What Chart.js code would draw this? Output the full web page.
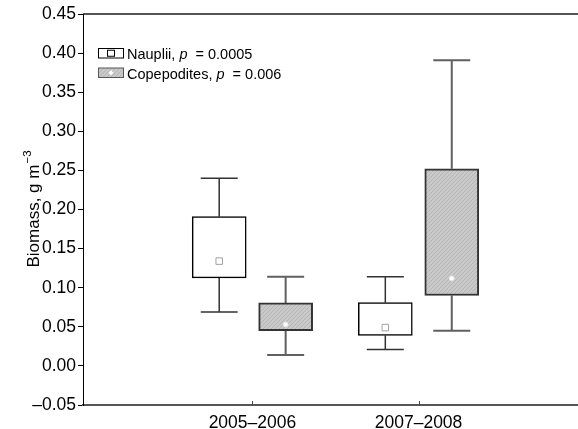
<!DOCTYPE html>
<html><head><meta charset="utf-8">
<script src="https://cdn.jsdelivr.net/npm/chart.js@4"></script>
<style>html,body{margin:0;padding:0;background:#fff}#c{display:block}</style>
</head><body>
<canvas id="c" width="578" height="429"></canvas>
<script>
// ---- data ----
const categories = ['2005–2006', '2007–2008'];
const seriesNames = ['Nauplii', 'Copepodites'];
const pValues = ['0.0005', '0.006'];
const naupliiMin = [0.069, 0.021];
const naupliiQ1  = [0.1125, 0.039];
const naupliiQ3  = [0.191, 0.081];
const naupliiMax = [0.240, 0.114];
const naupliiMid = [0.134, 0.049];
const copeMin = [0.014, 0.045];
const copeQ1  = [0.045, 0.090];
const copeQ3  = [0.0805, 0.252];
const copeMax = [0.114, 0.391];
const copeMid = [0.053, 0.112];
const yTicks = [-0.05, 0, 0.05, 0.10, 0.15, 0.20, 0.25, 0.30, 0.35, 0.40, 0.45];

// ---- style ----
const FONT = '"Liberation Sans", Arial, sans-serif';
const OFFSET = 0.2;          // group offset in category units
const BOX_W = 54;
const CAP_HALF = 18.5;

const pc = document.createElement('canvas'); pc.width = 4; pc.height = 4;
const g = pc.getContext('2d');
g.fillStyle = '#c9c9c9'; g.fillRect(0, 0, 4, 4);
g.strokeStyle = '#b6b6b6'; g.lineWidth = 1;
g.beginPath(); g.moveTo(-1, 5); g.lineTo(5, -1); g.stroke();
const hatch = g.createPattern(pc, 'repeat');

const series = [
  {min: naupliiMin, q1: naupliiQ1, q3: naupliiQ3, max: naupliiMax, mid: naupliiMid, off: -OFFSET, wcol: '#333', ww: 1.5},
  {min: copeMin, q1: copeQ1, q3: copeQ3, max: copeMax, mid: copeMid, off: OFFSET, wcol: '#606060', ww: 2}
];

const whiskerPlugin = {
  id: 'whiskers',
  beforeDatasetsDraw(chart) {
    const ctx = chart.ctx, xs = chart.scales.x, ys = chart.scales.y;
    ctx.save();
    series.forEach(s => {
      categories.forEach((c, i) => {
        const x = xs.getPixelForValue(i + 1 + s.off);
        ctx.strokeStyle = s.wcol; ctx.lineWidth = s.ww;
        ctx.beginPath();
        ctx.moveTo(x, ys.getPixelForValue(s.min[i])); ctx.lineTo(x, ys.getPixelForValue(s.q1[i]));
        ctx.moveTo(x, ys.getPixelForValue(s.q3[i])); ctx.lineTo(x, ys.getPixelForValue(s.max[i]));
        [s.min[i], s.max[i]].forEach(v => {
          const y = ys.getPixelForValue(v);
          ctx.moveTo(x - CAP_HALF, y); ctx.lineTo(x + CAP_HALF, y);
        });
        ctx.stroke();
      });
    });
    ctx.restore();
  },
  afterDraw(chart) {
    const ctx = chart.ctx, a = chart.chartArea, xs = chart.scales.x;
    ctx.save();
    // top frame line
    ctx.strokeStyle = '#555'; ctx.lineWidth = 2;
    ctx.beginPath(); ctx.moveTo(a.left, a.top); ctx.lineTo(a.right, a.top); ctx.stroke();
    // inner x ticks
    ctx.strokeStyle = '#444'; ctx.lineWidth = 1;
    categories.forEach((c, i) => {
      const x = Math.round(xs.getPixelForValue(i + 1)) + 0.5;
      ctx.beginPath(); ctx.moveTo(x, a.bottom); ctx.lineTo(x, a.bottom - 4); ctx.stroke();
    });
    ctx.strokeStyle = '#000'; ctx.lineWidth = 1;
    ctx.beginPath(); ctx.moveTo(a.left + 0.5, a.top); ctx.lineTo(a.left + 0.5, a.bottom); ctx.stroke();
    // legend
    const rows = [
      {y: 48, fill: '#fff', stroke: '#000'},
      {y: 67.5, fill: hatch, stroke: '#555'}
    ];
    rows.forEach((r, k) => {
      ctx.fillStyle = r.fill; ctx.fillRect(98.5, r.y + 0.5, 25, 9.5);
      ctx.strokeStyle = r.stroke; ctx.lineWidth = 1;
      ctx.strokeRect(98.5, r.y + 0.5, 25, 9.5);
      const cx = 111, cy = r.y + 5.25;
      if (k === 0) {
        ctx.strokeStyle = '#000'; ctx.strokeRect(cx - 3.5, cy - 3, 7, 6);
      } else {
        ctx.fillStyle = '#fff'; ctx.beginPath();
        ctx.moveTo(cx, cy - 2.5); ctx.lineTo(cx + 2.5, cy); ctx.lineTo(cx, cy + 2.5); ctx.lineTo(cx - 2.5, cy); ctx.closePath(); ctx.fill();
      }
      let tx = 127; const by = r.y + 11;
      ctx.fillStyle = '#000'; ctx.textBaseline = 'alphabetic'; ctx.textAlign = 'left';
      const parts = [[seriesNames[k] + ', ', 'normal'], ['p', 'italic'], ['  = ' + pValues[k], 'normal']];
      parts.forEach(([t, st]) => {
        ctx.font = st + ' 14.5px ' + FONT;
        ctx.fillText(t, tx, by); tx += ctx.measureText(t).width;
      });
    });
    // y title
    ctx.translate(39, (a.top + a.bottom) / 2);
    ctx.rotate(-Math.PI / 2);
    ctx.font = '17px ' + FONT;
    const main = 'Biomass, g m';
    ctx.fillStyle = '#000';
    const w1 = ctx.measureText(main).width;
    ctx.font = '11.5px ' + FONT;
    const sup = '−3';
    const w2 = ctx.measureText(sup).width;
    const x0 = -(w1 + w2) / 2;
    ctx.font = '17px ' + FONT;
    ctx.fillText(main, x0, 0);
    ctx.font = '11.5px ' + FONT;
    ctx.fillText(sup, x0 + w1 + 1, -8);
    ctx.restore();
  }
};

new Chart(document.getElementById('c'), {
  type: 'bar',
  data: {
    datasets: [
      {
        label: seriesNames[0],
        data: categories.map((c, i) => ({x: i + 1 - OFFSET, y: [naupliiQ1[i], naupliiQ3[i]]})),
        backgroundColor: '#ffffff', borderColor: '#000', borderWidth: 1.5, borderSkipped: false,
        barThickness: BOX_W, grouped: false, order: 2
      },
      {
        label: seriesNames[1],
        data: categories.map((c, i) => ({x: i + 1 + OFFSET, y: [copeQ1[i], copeQ3[i]]})),
        backgroundColor: hatch, borderColor: '#333', borderWidth: 2, borderSkipped: false,
        barThickness: BOX_W, grouped: false, order: 2
      },
      {
        type: 'scatter', label: seriesNames[0] + ' mid',
        data: categories.map((c, i) => ({x: i + 1 - OFFSET, y: naupliiMid[i]})),
        pointStyle: 'rect', radius: 4.6, backgroundColor: '#fff', borderColor: '#a0a0a0', borderWidth: 1, order: 1
      },
      {
        type: 'scatter', label: seriesNames[1] + ' mid',
        data: categories.map((c, i) => ({x: i + 1 + OFFSET, y: copeMid[i]})),
        pointStyle: 'circle', radius: 2.4, backgroundColor: '#fff', borderColor: '#e8e8e8', borderWidth: 1, order: 1
      }
    ]
  },
  options: {
    responsive: false, animation: false, devicePixelRatio: 1,
    layout: {autoPadding: false, padding: {top: 14, right: 0, left: 0, bottom: 0}},
    plugins: {legend: {display: false}, tooltip: {enabled: false}},
    scales: {
      x: {
        type: 'linear', min: -0.02, max: 2.96, offset: false,
        afterBuildTicks: s => { s.ticks = categories.map((c, i) => ({value: i + 1})); },
        ticks: {callback: v => categories[v - 1], font: {family: FONT, size: 17.5}, color: '#000', padding: 0, maxRotation: 0, autoSkip: false},
        grid: {display: false, offset: false},
        border: {display: true, color: '#555', width: 2},
        afterFit: s => { s.height = 24; s.paddingLeft = 0; s.paddingRight = 0; }
      },
      y: {
        type: 'linear', min: -0.05, max: 0.45,
        afterBuildTicks: s => { s.ticks = yTicks.map(v => ({value: v})); },
        ticks: {callback: v => v.toFixed(2).replace('-', '–'), font: {family: FONT, size: 17.5}, color: '#000', padding: 2, autoSkip: false},
        grid: {drawOnChartArea: false, drawTicks: true, tickLength: 5, color: '#000'},
        border: {display: true, color: '#000', width: 1},
        afterFit: s => { s.width = 83; }
      }
    }
  },
  plugins: [whiskerPlugin]
});
</script>
</body></html>
